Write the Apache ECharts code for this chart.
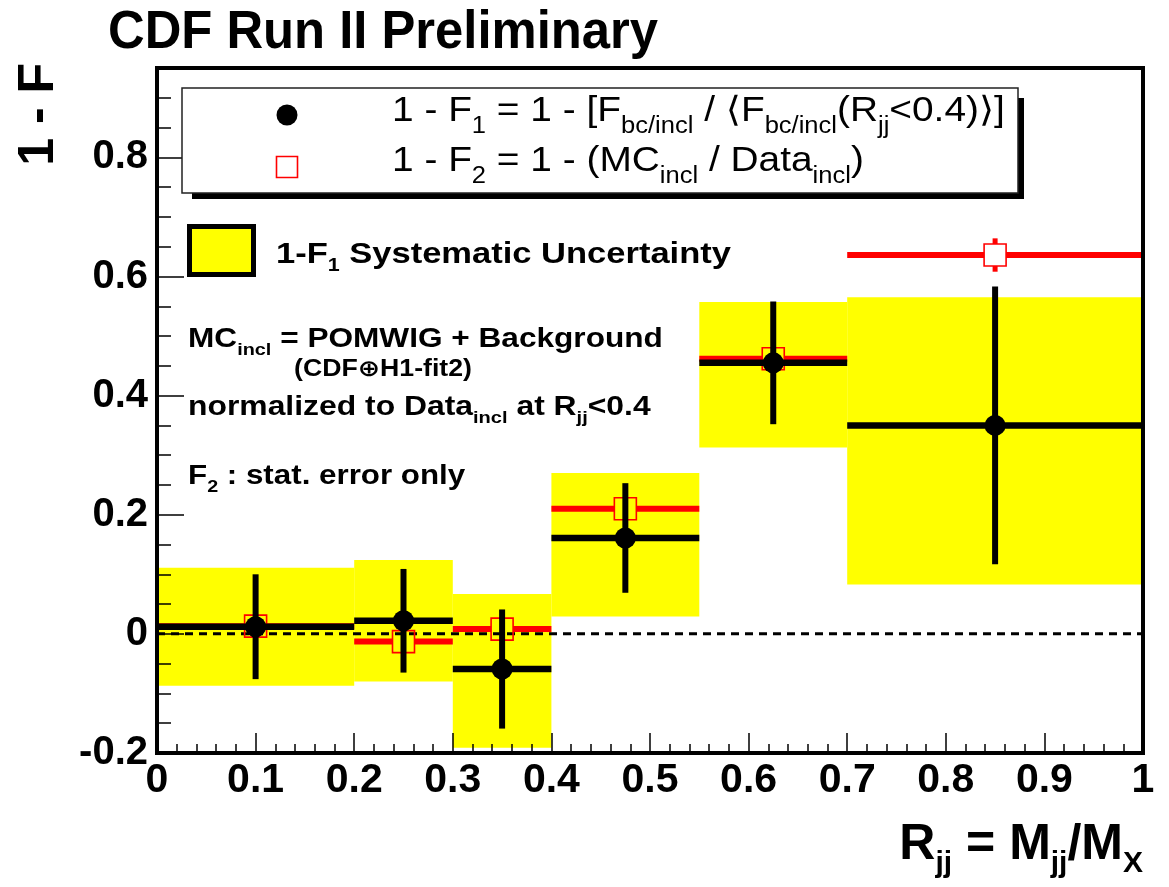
<!DOCTYPE html>
<html>
<head>
<meta charset="utf-8">
<script src="https://cdn.jsdelivr.net/npm/echarts@6/dist/echarts.min.js"></script>
<style>
  html, body { margin: 0; padding: 0; background: #fff; }
  #chart { width: 1169px; height: 887px; }
</style>
</head>
<body>
<div id="chart"></div>
<script>
// Bin edges in R_jj and the bin centres where the points are placed
const binLow    = [0.0, 0.2, 0.3, 0.4, 0.55, 0.7];
const binHigh   = [0.2, 0.3, 0.4, 0.55, 0.7, 1.0];
const binCenter = [0.1, 0.25, 0.35, 0.475, 0.625, 0.85];

// 1 - F1 and its statistical error
const oneMinusF1     = [0.012, 0.022, -0.059, 0.161, 0.455, 0.350];
const oneMinusF1Stat = [0.088, 0.087, 0.100, 0.092, 0.103, 0.233];

// 1 - F1 systematic band: lower and upper edge per bin
const sysLow  = [-0.087, -0.080, -0.191, 0.029, 0.313, 0.083];
const sysHigh = [0.111, 0.124, 0.067, 0.270, 0.557, 0.565];

// 1 - F2 and its statistical error
const oneMinusF2     = [0.013, -0.013, 0.008, 0.210, 0.462, 0.636];
const oneMinusF2Stat = [0.010, 0.011, 0.012, 0.014, 0.016, 0.028];

// Reference level drawn as a dashed line
const zeroLevel = [0];

// Tick labels
const xTickLabels = ['0', '0.1', '0.2', '0.3', '0.4', '0.5', '0.6', '0.7', '0.8', '0.9', '1'];
const yTickLabels = ['-0.2', '0', '0.2', '0.4', '0.6', '0.8'];

const FONT = "'Liberation Sans', Arial, Helvetica, 'DejaVu Sans', sans-serif";
const GRID = { left: 157, top: 68, right: 26, bottom: 134 };
const W = 1169, H = 887;

// Text with subscripts built from rich-text fragments.
// cy is the vertical centre of the capitals of the main text.
function richText(opt) {
  const F = opt.size;
  const s = opt.sub || Math.round(F * 0.63);
  const drop = opt.drop != null ? opt.drop : 0.28 * F;
  const L = Math.max(s, 2 * (drop + 0.3465 * F + 0.1535 * s));
  const weight = opt.bold ? 'bold' : 'normal';
  const text = opt.parts.map(p => '{' + (p[1] ? 's' : 'm') + '|' + p[0] + '}').join('');
  return {
    type: 'text', z: 100,
    x: opt.x, y: opt.cy - L / 2,
    scaleX: opt.scaleX || 1,
    style: {
      text: text, x: 0, y: 0,
      align: opt.align || 'left', verticalAlign: 'top',
      fill: '#000', fontFamily: FONT, fontSize: F, fontWeight: weight,
      rich: {
        m: { fontFamily: FONT, fontSize: F, fontWeight: weight, lineHeight: L, fill: '#000' },
        s: { fontFamily: FONT, fontSize: s, fontWeight: weight, lineHeight: s, verticalAlign: 'bottom', fill: '#000' }
      }
    }
  };
}

const sysData = binLow.map((l, i) => [l, binHigh[i], sysLow[i], sysHigh[i]]);
const f1Data  = binCenter.map((x, i) => [x, binLow[i], binHigh[i], oneMinusF1[i], oneMinusF1Stat[i]]);
const f2Data  = binCenter.map((x, i) => [x, binLow[i], binHigh[i], oneMinusF2[i], oneMinusF2Stat[i]]);

function renderBand(params, api) {
  const p0 = api.coord([api.value(0), api.value(3)]);
  const p1 = api.coord([api.value(1), api.value(2)]);
  return {
    type: 'rect',
    shape: { x: p0[0], y: p0[1], width: p1[0] - p0[0], height: p1[1] - p0[1] },
    style: { fill: '#ffff00' }
  };
}

function renderZero(params, api) {
  const cs = params.coordSys;
  const y = api.coord([0, api.value(0)])[1];
  return {
    type: 'line',
    shape: { x1: cs.x, y1: y, x2: cs.x + cs.width, y2: y },
    style: { stroke: '#000', lineWidth: 3, lineDash: [8, 6] }
  };
}

// Point with horizontal bin-width bar and vertical error bar
function makePointRenderer(kind) {
  return function (params, api) {
    const x = api.value(0), lo = api.value(1), hi = api.value(2);
    const v = api.value(3), e = api.value(4);
    const c = api.coord([x, v]);
    const l = api.coord([lo, v]);
    const h = api.coord([hi, v]);
    const t = api.coord([x, v + e]);
    const b = api.coord([x, v - e]);
    const children = [];
    if (kind === 'f1') {
      const st = { stroke: '#000', lineWidth: 6.5 };
      children.push({ type: 'line', shape: { x1: l[0], y1: c[1], x2: h[0], y2: c[1] }, style: st });
      children.push({ type: 'line', shape: { x1: c[0], y1: t[1], x2: c[0], y2: b[1] }, style: { stroke: '#000', lineWidth: 6 } });
      children.push({ type: 'circle', shape: { cx: c[0], cy: c[1], r: 10.5 }, style: { fill: '#000' } });
    } else {
      const half = 11;
      const st = { stroke: '#ff0000', lineWidth: 6 };
      children.push({ type: 'line', shape: { x1: l[0], y1: c[1], x2: c[0] - half, y2: c[1] }, style: st });
      children.push({ type: 'line', shape: { x1: c[0] + half, y1: c[1], x2: h[0], y2: c[1] }, style: st });
      if (c[1] - t[1] > half) {
        children.push({ type: 'line', shape: { x1: c[0], y1: t[1], x2: c[0], y2: c[1] - half }, style: { stroke: '#ff0000', lineWidth: 5 } });
        children.push({ type: 'line', shape: { x1: c[0], y1: c[1] + half, x2: c[0], y2: b[1] }, style: { stroke: '#ff0000', lineWidth: 5 } });
      }
      children.push({ type: 'rect', shape: { x: c[0] - half, y: c[1] - half, width: 2 * half, height: 2 * half },
        style: { fill: 'none', stroke: '#ff0000', lineWidth: 1.6 } });
    }
    return { type: 'group', children: children };
  };
}

const tickLine = { color: '#000', width: 1.5 };
const plotW = W - GRID.left - GRID.right;
const plotH = H - GRID.top - GRID.bottom;

const option = {
  animation: false,
  backgroundColor: '#fff',
  grid: { left: GRID.left, top: GRID.top, right: GRID.right, bottom: GRID.bottom, containLabel: false },
  xAxis: [{
    type: 'value', min: 0, max: 1, interval: 0.1, z: 10,
    axisLine: { show: false, onZero: false },
    axisTick: { show: true, inside: true, length: 20, lineStyle: tickLine },
    minorTick: { show: true, splitNumber: 5, length: 9, lineStyle: tickLine },
    splitLine: { show: false },
    axisLabel: {
      margin: 7, color: '#000', fontFamily: FONT, fontWeight: 'bold', fontSize: 41,
      formatter: v => xTickLabels[Math.round(v * 10)] || ''
    }
  }],
  yAxis: [{
    type: 'value', min: -0.2, max: 0.95, interval: 0.2, z: 10,
    axisLine: { show: false, onZero: false },
    axisTick: { show: true, inside: true, length: 27, lineStyle: tickLine },
    splitLine: { show: false },
    axisLabel: {
      margin: 9, color: '#000', fontFamily: FONT, fontWeight: 'bold', fontSize: 40,
      formatter: v => (v > 0.85 ? '' : (yTickLabels[Math.round((v + 0.2) / 0.2)] || ''))
    }
  }, {
    type: 'value', min: -0.2, max: 0.95, interval: 0.05, z: 10, position: 'left',
    axisLine: { show: false, onZero: false },
    axisTick: { show: true, inside: true, length: 14, lineStyle: tickLine },
    splitLine: { show: false },
    axisLabel: { show: false }
  }],
  series: [{
    type: 'custom', z: 1, clip: true,
    renderItem: renderBand,
    encode: { x: [0, 1], y: [2, 3] },
    data: sysData
  }, {
    type: 'custom', z: 2, clip: true,
    renderItem: renderZero,
    encode: { y: 0 },
    data: zeroLevel.map(v => [v])
  }, {
    type: 'custom', z: 3, clip: true,
    renderItem: makePointRenderer('f2'),
    encode: { x: 0, y: 3 },
    data: f2Data
  }, {
    type: 'custom', z: 4, clip: true,
    renderItem: makePointRenderer('f1'),
    encode: { x: 0, y: 3 },
    data: f1Data
  }],
  graphic: { elements: [
    // frame around the plot
    { type: 'rect', z: 90, shape: { x: GRID.left, y: GRID.top, width: plotW, height: plotH },
      style: { fill: 'none', stroke: '#000', lineWidth: 4 } },

    // title
    richText({ x: 108, cy: 33, size: 54, bold: true, scaleX: 0.94, parts: [['CDF Run II Preliminary']] }),

    // axis titles
    { type: 'text', z: 100, x: 39, y: 63, rotation: Math.PI / 2,
      style: { text: '1 - F', align: 'right', verticalAlign: 'middle', fontFamily: FONT,
               fontSize: 50, fontWeight: 'bold', fill: '#000' } },
    richText({ x: 1143, cy: 845, size: 50, sub: 30, drop: 12, bold: true, align: 'right',
      parts: [['R'], ['jj', 1], [' = M'], ['jj', 1], ['/M'], ['X', 1]] }),

    // legend box with shadow
    { type: 'rect', z: 95, shape: { x: 192, y: 98, width: 832, height: 101 }, style: { fill: '#000' } },
    { type: 'rect', z: 96, shape: { x: 182, y: 88, width: 836, height: 105 },
      style: { fill: '#fff', stroke: '#222', lineWidth: 1.5 } },
    { type: 'circle', z: 100, shape: { cx: 287, cy: 115, r: 10.5 }, style: { fill: '#000' } },
    { type: 'rect', z: 100, shape: { x: 276.5, y: 156.5, width: 21, height: 21 },
      style: { fill: 'none', stroke: '#ff0000', lineWidth: 1.6 } },
    richText({ x: 392, cy: 111, size: 35, sub: 23, drop: 11, scaleX: 1.11,
      parts: [['1 - F'], ['1', 1], [' = 1 - [F'], ['bc/incl', 1], [' / \u27E8F'], ['bc/incl', 1],
              ['(R'], ['jj', 1], ['<0.4)\u27E9]']] }),
    richText({ x: 392, cy: 161, size: 35, sub: 23, drop: 11, scaleX: 1.11,
      parts: [['1 - F'], ['2', 1], [' = 1 - (MC'], ['incl', 1], [' / Data'], ['incl', 1], [')']] }),

    // systematic band key
    { type: 'rect', z: 100, shape: { x: 189.5, y: 226.5, width: 64, height: 48 },
      style: { fill: '#ffff00', stroke: '#000', lineWidth: 5 } },
    richText({ x: 276, cy: 255, size: 29, sub: 18, drop: 7, bold: true, scaleX: 1.19,
      parts: [['1-F'], ['1', 1], [' Systematic Uncertainty']] }),

    // notes
    richText({ x: 188, cy: 340, size: 27, sub: 17, drop: 7, bold: true, scaleX: 1.17,
      parts: [['MC'], ['incl', 1], [' = POMWIG + Background']] }),
    richText({ x: 294, cy: 370, size: 23, bold: true, scaleX: 1.16, parts: [['(CDF\u2295H1-fit2)']] }),
    richText({ x: 188, cy: 408, size: 27, sub: 17, drop: 7, bold: true, scaleX: 1.18,
      parts: [['normalized to Data'], ['incl', 1], [' at R'], ['jj', 1], ['<0.4']] }),
    richText({ x: 188, cy: 477, size: 27, sub: 17, drop: 7, bold: true, scaleX: 1.16,
      parts: [['F'], ['2', 1], [' : stat. error only']] })
  ] }
};

const chart = echarts.init(document.getElementById('chart'), null, { renderer: 'canvas' });
chart.setOption(option);
</script>
</body>
</html>
